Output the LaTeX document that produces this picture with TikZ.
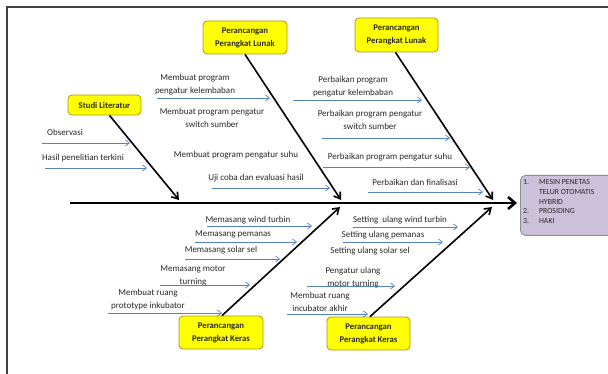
\documentclass[tikz,border=0pt]{standalone}
\usepackage{fontspec}
\setmainfont{Carlito}
\usetikzlibrary{arrows.meta}
\definecolor{subblue}{RGB}{84,130,190}
\definecolor{boxyellow}{RGB}{255,255,0}
\definecolor{boxedge}{RGB}{175,150,20}
\definecolor{purplefill}{RGB}{204,193,218}
\definecolor{purpleedge}{RGB}{140,140,150}
\definecolor{txt}{RGB}{40,40,40}
\begin{document}
\begin{tikzpicture}[x=1pt,y=-1pt,
 catbox/.style={draw=boxedge, fill=boxyellow, rounded corners=4pt, line width=0.8pt, align=center,
   font=\fontsize{8.7}{13}\selectfont\bfseries, text=txt, minimum width=84pt, minimum height=33pt, inner sep=0pt},
 lbl/.style={align=center, font=\fontsize{9}{13}\selectfont, text=txt, inner sep=0pt},
 sub/.style={draw=subblue, line width=0.7pt, -{Straight Barb[length=4pt,width=6pt]}},
 bone/.style={draw=black, line width=1.6pt, -{Straight Barb[length=6pt,width=8pt]}},
 spine/.style={draw=black, line width=2.6pt, -{Straight Barb[length=7pt,width=12pt]}},
 outbox/.style={draw=purpleedge, fill=purplefill, rounded corners=5pt, line width=0.8pt, inner sep=0pt},
]
\useasboundingbox (0,0) rectangle (608,374);
\fill[white] (0,0) rectangle (608,374);
% frame
\coordinate (fa) at (7,374); \coordinate (fb) at (7,7); \coordinate (fc) at (608,7);
\draw[line width=1.8pt, black!75] (fa) -- (fb) -- (fc);

% output box
\node[outbox, anchor=north west, minimum width=100pt, minimum height=60pt] (out) at (520,175) {};
\node[anchor=north west, inner sep=0pt, font=\fontsize{7.8}{9.6}\selectfont, text=txt] (outtxt) at (523,178)
 {\begin{tabular}{@{}l@{\hspace{10pt}}l@{}}1.&MESIN PENETAS\\&TELUR OTOMATIS\\&HYBRID\\2.&PROSIDING\\3.&HAKI\end{tabular}};

% spine
\coordinate (spS) at (70,203); \coordinate (spE) at (517,203);
\draw[spine] (spS) -- (spE);

% category boxes
\node[catbox, minimum width=73pt, minimum height=20pt] (lit) at (104.5,105) {Studi Literatur};
\node[catbox] (lun1) at (245,37.5) {Perancangan\\Perangkat Lunak};
\node[catbox, minimum width=83pt, minimum height=34pt] (lun2) at (396.5,35) {Perancangan\\Perangkat Lunak};
\node[catbox] (ker1) at (221,332.5) {Perancangan\\Perangkat Keras};
\node[catbox, minimum width=83pt] (ker2) at (368.5,333.5) {Perancangan\\Perangkat Keras};

% bones
\coordinate (b1) at (179,200); \coordinate (b2) at (341,200); \coordinate (b3) at (493,200);
\coordinate (b4) at (340,207); \coordinate (b5) at (492,207);
\draw[bone] ([xshift=5pt]lit.south) -- (b1);
\draw[bone] (lun1.south) -- (b2);
\draw[bone] ([xshift=-1pt]lun2.south) -- (b3);
\draw[bone] ([xshift=1pt]ker1.north) -- (b4);
\draw[bone] ([xshift=1.5pt]ker2.north) -- (b5);

% Studi Literatur
\node[lbl] (t1) at (65,132) {Observasi};
\draw[sub] (42,143) coordinate (s1a) -- (130,143) coordinate (s1b);
\node[lbl] (t2) at (83,158) {Hasil penelitian terkini};
\draw[sub] (45,168) coordinate (s2a) -- (147,168) coordinate (s2b);

% Perangkat Lunak 1
\node[lbl] (t3) at (195,85) {Membuat program\\pengatur kelembaban};
\draw[sub] (157,98) coordinate (s3a) -- (270,98) coordinate (s3b);
\node[lbl] (t4) at (212,117.5) {Membuat program pengatur\\switch sumber};
\node[lbl] (t5) at (236,155) {Membuat program pengatur suhu};
\node[lbl] (t6) at (256,178) {Uji coba dan evaluasi hasil};
\draw[sub] (212,188) coordinate (s6a) -- (330,188) coordinate (s6b);

% Perangkat Lunak 2
\node[lbl] (t7) at (353,87) {Perbaikan program\\pengatur kelembaban};
\draw[sub] (293,100) coordinate (s7a) -- (422,100) coordinate (s7b);
\node[lbl] (t8) at (370,120) {Perbaikan program pengatur\\switch sumber};
\draw[sub] (322,138) coordinate (s8a) -- (450,138) coordinate (s8b);
\node[lbl] (t9) at (390,157) {Perbaikan program pengatur suhu};
\draw[sub] (323,167) coordinate (s9a) -- (470,167) coordinate (s9b);
\node[lbl] (t10) at (415,182) {Perbaikan dan finalisasi};
\draw[sub] (368,192) coordinate (s10a) -- (483,192) coordinate (s10b);

% Perangkat Keras 1
\node[lbl] (t11) at (248,220) {Memasang wind turbin};
\draw[sub] (207,226) coordinate (s11a) -- (312,226) coordinate (s11b);
\node[lbl] (t12) at (233,234) {Memasang pemanas};
\draw[sub] (195,242) coordinate (s12a) -- (297,242) coordinate (s12b);
\node[lbl] (t13) at (221,250) {Memasang solar sel};
\draw[sub] (185,259) coordinate (s13a) -- (280,259) coordinate (s13b);
\node[lbl] (t14) at (193,276) {Memasang motor\\turning};
\draw[sub] (160,285) coordinate (s14a) -- (250,285) coordinate (s14b);
\node[lbl] (t15) at (148,300) {Membuat ruang\\prototype inkubator};
\draw[sub] (108,313) coordinate (s15a) -- (222,313) coordinate (s15b);

% Perangkat Keras 2
\node[lbl] (t16) at (400,220) {Setting\ \ ulang wind turbin};
\draw[sub] (353,227) coordinate (s16a) -- (458,227) coordinate (s16b);
\node[lbl] (t17) at (383,235) {Setting ulang pemanas};
\draw[sub] (343,242) coordinate (s17a) -- (443,242) coordinate (s17b);
\node[lbl] (t18) at (370,251) {Setting ulang solar sel};
\node[lbl] (t19) at (353,277.5) {Pengatur ulang\\motor turning};
\draw[sub] (307,286) coordinate (s19a) -- (395,286) coordinate (s19b);
\node[lbl] (t20) at (320,301.5) {Membuat ruang\\incubator akhir};
\draw[sub] (287,314) coordinate (s20a) -- (368,314) coordinate (s20b);
\end{tikzpicture}
\end{document}
